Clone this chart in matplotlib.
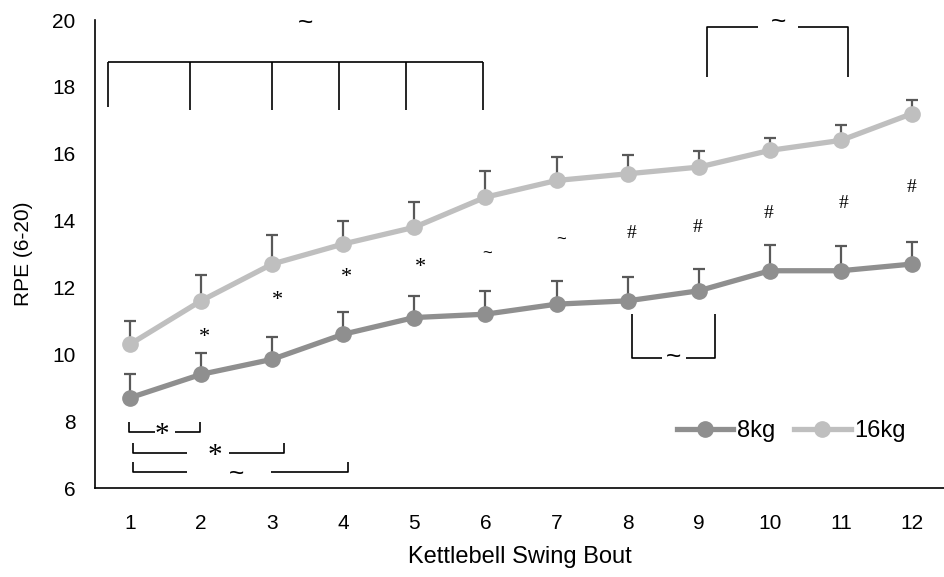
import matplotlib.pyplot as plt
import numpy as np

bouts = list(range(1, 13))
rpe_8kg = [8.7, 9.4, 9.85, 10.6, 11.1, 11.2, 11.5, 11.6, 11.9, 12.5, 12.5, 12.7]
err_8kg = [0.72, 0.64, 0.68, 0.66, 0.64, 0.7, 0.7, 0.7, 0.66, 0.76, 0.74, 0.66]
rpe_16kg = [10.3, 11.6, 12.7, 13.3, 13.8, 14.7, 15.2, 15.4, 15.6, 16.1, 16.4, 17.2]
err_16kg = [0.7, 0.78, 0.87, 0.7, 0.75, 0.78, 0.7, 0.56, 0.48, 0.37, 0.46, 0.4]

# significance marks between the two loads, per bout
mark_x = [2.05, 3.08, 4.05, 5.08, 6.02, 7.06, 8.06, 8.98, 9.98, 11.03, 12.0]
mark_y = [10.5, 11.6, 12.3, 12.6, 13.0, 13.4, 13.6, 13.8, 14.2, 14.5, 15.0]
mark_txt = ['*', '*', '*', '*', '~', '~', '#', '#', '#', '#', '#']

c8 = '#8f8f8f'
c16 = '#bfbfbf'
cerr = '#595959'

fig = plt.figure(figsize=(9.44, 5.77), dpi=100)
ax = fig.add_axes([0.1006, 0.1542, 0.8994, 0.8111])

up8 = [np.zeros(12), err_8kg]
up16 = [np.zeros(12), err_16kg]
ax.errorbar(bouts, rpe_8kg, yerr=up8, fmt='none', ecolor=cerr, elinewidth=1.6,
            capsize=4.5, capthick=1.6, zorder=2)
ax.errorbar(bouts, rpe_16kg, yerr=up16, fmt='none', ecolor=cerr, elinewidth=1.6,
            capsize=4.5, capthick=1.6, zorder=2)
ax.plot(bouts, rpe_8kg, color=c8, lw=3.8, marker='o', ms=11, label='8kg', zorder=3)
ax.plot(bouts, rpe_16kg, color=c16, lw=3.8, marker='o', ms=11, label='16kg', zorder=3)

ax.set_xlim(0.508, 12.45)
ax.set_ylim(6, 20)
ax.set_xticks(bouts)
ax.set_yticks(range(6, 21, 2))
ax.tick_params(length=0, labelsize=15)
ax.tick_params(axis='y', pad=14)
ax.tick_params(axis='x', pad=19)
for lab in ax.get_xticklabels() + ax.get_yticklabels():
    lab.set_family('Liberation Sans')
ax.spines['top'].set_visible(False)
ax.spines['right'].set_visible(False)
ax.spines['left'].set_linewidth(1.2)
ax.spines['bottom'].set_linewidth(1.2)
ax.set_xlabel('Kettlebell Swing Bout', fontsize=17, family='Liberation Sans', labelpad=9)
ax.set_ylabel('RPE (6-20)', fontsize=15, family='Liberation Sans', labelpad=14)

for x, y, t in zip(mark_x, mark_y, mark_txt):
    if t == '~':
        ax.text(x, y, t, ha='center', va='center', fontsize=12, family='Liberation Sans')
    elif t == '#':
        ax.text(x, y, t, ha='center', va='center', fontsize=14, family='Liberation Serif')
    else:
        ax.text(x, y, t, ha='center', va='center', fontsize=16, family='Liberation Serif')

k = dict(color='black', lw=1.2, solid_capstyle='butt')
tl = dict(ha='center', va='center', fontsize=19, family='Liberation Sans')
st = dict(ha='center', va='center', fontsize=21, family='Liberation Serif')

# big bracket over bouts 1-6
ax.plot([0.69, 5.96], [18.74, 18.74], **k)
for bx, by in zip([0.69, 1.84, 3.0, 3.94, 4.88, 5.96], [17.4, 17.3, 17.3, 17.3, 17.3, 17.3]):
    ax.plot([bx, bx], [18.74, by], **k)
ax.text(3.47, 19.92, '~', **tl)

# bracket over bouts 9-11
ax.plot([9.12, 9.12, 9.84], [18.3, 19.79, 19.79], **k)
ax.plot([10.4, 11.1, 11.1], [19.79, 19.79, 18.3], **k)
ax.text(10.12, 19.95, '~', **tl)

# bracket under bouts 8-9
ax.plot([8.06, 8.06, 8.48], [11.2, 9.89, 9.89], **k)
ax.plot([8.82, 9.23, 9.23], [9.89, 9.89, 11.2], **k)
ax.text(8.64, 9.93, '~', **tl)

# bouts 1 vs 2, 3, 4
ax.plot([0.99, 0.99, 1.35], [7.99, 7.69, 7.69], **k)
ax.plot([1.63, 1.99, 1.99], [7.69, 7.69, 7.99], **k)
ax.text(1.45, 7.6, '*', **st)

ax.plot([1.04, 1.04, 1.8], [7.36, 7.06, 7.06], **k)
ax.plot([2.4, 3.17, 3.17], [7.06, 7.06, 7.36], **k)
ax.text(2.2, 6.97, '*', **st)

ax.plot([1.04, 1.04, 1.8], [6.78, 6.48, 6.48], **k)
ax.plot([2.98, 4.07, 4.07], [6.48, 6.48, 6.78], **k)
ax.text(2.5, 6.43, '~', **tl)

ax.legend(loc='center', bbox_to_anchor=(0.838, 0.253), bbox_transform=fig.transFigure,
          ncol=2, frameon=False, handlelength=2.4, handletextpad=0.15,
          columnspacing=0.8, borderpad=0,
          prop={'family': 'Liberation Sans', 'size': 17})

fig.savefig('out.png', dpi=100)
